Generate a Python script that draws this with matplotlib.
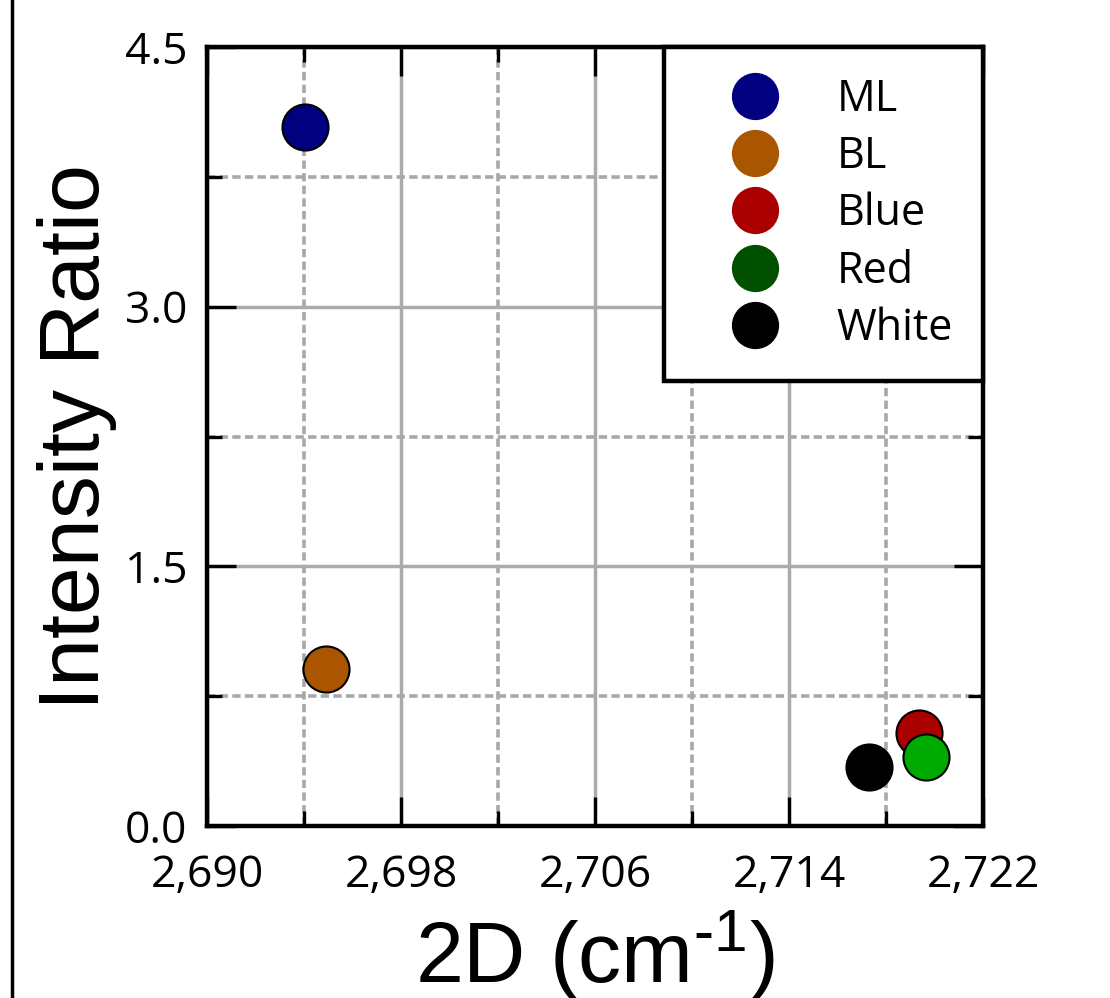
import numpy as np
import matplotlib
matplotlib.use("Agg")
import matplotlib.pyplot as plt
from matplotlib.lines import Line2D
from matplotlib.ticker import FixedLocator, FuncFormatter

# data
labels = ["ML", "BL", "Blue", "Red", "White"]
shift_2d = [2694.05, 2694.9, 2719.35, 2719.65, 2717.3]
ratio = [4.04, 0.91, 0.54, 0.40, 0.34]
point_colors = ["#000080", "#AA5500", "#AA0000", "#00AA00", "#000000"]
legend_colors = ["#000080", "#AA5500", "#AA0000", "#005000", "#000000"]
x_major = [2690, 2698, 2706, 2714, 2722]
x_minor = [2694, 2702, 2710, 2718]
y_major = [0.0, 1.5, 3.0, 4.5]
y_minor = [0.75, 2.25, 3.75]

plt.rcParams["mathtext.fontset"] = "custom"
plt.rcParams["mathtext.rm"] = "Liberation Sans"
plt.rcParams["mathtext.it"] = "Liberation Sans"

fig = plt.figure(figsize=(11.1, 9.98), dpi=100)
ax = fig.add_axes([0.1865, 0.1723, 0.6991, 0.7806])

for x, y, c in zip(shift_2d, ratio, point_colors):
    ax.scatter(x, y, s=1100, color=c, edgecolor="black", linewidth=1.5, zorder=5)

ax.set_xlim(2690, 2722)
ax.set_ylim(0, 4.5)
ax.xaxis.set_major_locator(FixedLocator(x_major))
ax.xaxis.set_minor_locator(FixedLocator(x_minor))
ax.yaxis.set_major_locator(FixedLocator(y_major))
ax.yaxis.set_minor_locator(FixedLocator(y_minor))
ax.xaxis.set_major_formatter(FuncFormatter(lambda v, p: f"{v:,.0f}"))
ax.yaxis.set_major_formatter(FuncFormatter(lambda v, p: f"{v:.1f}"))

ax.grid(which="major", color="#ababab", linewidth=2.5, linestyle="-")
ax.grid(which="minor", color="#a8a8a8", linewidth=2.6, linestyle=(0, (2.3, 1.2)))
ax.set_axisbelow(True)

ax.tick_params(which="both", direction="in", top=True, right=True,
               color="black", width=2.4)
ax.tick_params(which="major", length=21, pad=14)
ax.tick_params(which="minor", length=11)
ax.tick_params(axis="x", which="major", pad=20)
for lab in ax.get_xticklabels() + ax.get_yticklabels():
    lab.set_fontfamily("Open Sans")
    lab.set_fontsize(32)

for sp in ax.spines.values():
    sp.set_linewidth(3.2)
    sp.set_color("black")

ax.set_xlabel("2D (cm$^{\u2010 1}$)", fontsize=62, fontfamily="Liberation Sans", labelpad=7)
ax.set_ylabel("Intensity Ratio", fontsize=62, fontfamily="Liberation Sans", labelpad=6)

handles = [Line2D([], [], marker="o", linestyle="none", markersize=33,
                  markerfacecolor=c, markeredgecolor=c) for c in legend_colors]
leg = ax.legend(handles, labels, loc="upper right", bbox_to_anchor=(1, 1),
                borderaxespad=0, fancybox=False, framealpha=1,
                prop={"family": "Open Sans", "size": 31},
                handlelength=2.8, handletextpad=0.5, labelspacing=0.3,
                borderpad=0.7)
leg.get_frame().set_edgecolor("black")
leg.get_frame().set_linewidth(3.2)
leg.set_zorder(10)

# thin frame line at the left edge of the picture
fig.add_artist(Line2D([0.0105, 0.0105], [0, 1], color="black", linewidth=2.5,
                      transform=fig.transFigure))

fig.savefig("out.png", dpi=100)
